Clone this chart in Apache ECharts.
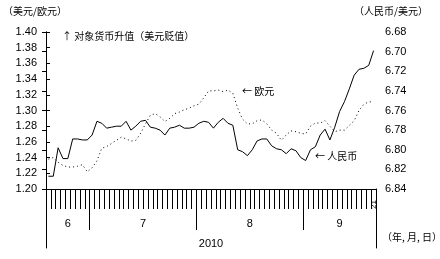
<!DOCTYPE html>
<html><head><meta charset="utf-8">
<script src="https://cdn.jsdelivr.net/npm/echarts@6/dist/echarts.min.js"></script>
<style>html,body{margin:0;padding:0;background:#fff}#c{width:440px;height:259px}</style>
</head><body><div id="c"></div>
<script>
// Trading days (month/day), 2010
const dates = [
 '6/18','6/21','6/22','6/23','6/24','6/25','6/28','6/29','6/30',
 '7/1','7/2','7/5','7/6','7/7','7/8','7/9','7/12','7/13','7/14','7/15','7/16','7/19','7/20','7/21','7/22','7/23','7/26','7/27','7/28','7/29','7/30',
 '8/2','8/3','8/4','8/5','8/6','8/9','8/10','8/11','8/12','8/13','8/16','8/17','8/18','8/19','8/20','8/23','8/24','8/25','8/26','8/27','8/30','8/31',
 '9/1','9/2','9/3','9/6','9/7','9/8','9/9','9/10','9/13','9/14','9/15','9/16','9/17','9/20','9/21'
];
// EUR: USD per EUR (left axis, dotted)
const eurValues = [
 1.238,1.240,1.234,1.230,1.228,1.228,1.229,1.231,1.222,
 1.227,1.236,1.252,1.254,1.258,1.262,1.266,1.264,1.261,1.262,1.271,1.283,1.294,1.296,1.292,1.286,1.290,1.296,1.298,1.301,1.303,1.306,
 1.308,1.316,1.325,1.325,1.326,1.324,1.326,1.322,1.303,1.289,1.283,1.283,1.287,1.288,1.283,1.275,1.271,1.262,1.269,1.274,1.273,1.271,
 1.270,1.280,1.284,1.284,1.287,1.280,1.273,1.275,1.275,1.281,1.287,1.300,1.308,1.311,1.311
];
// CNY per USD (right axis, inverted, solid)
const cnyValues = [
 6.827,6.827,6.798,6.809,6.809,6.789,6.789,6.790,6.790,
 6.785,6.771,6.773,6.778,6.777,6.776,6.776,6.771,6.780,6.776,6.771,6.770,6.777,6.778,6.780,6.785,6.778,6.777,6.775,6.778,6.778,6.777,
 6.773,6.771,6.772,6.778,6.772,6.768,6.773,6.775,6.800,6.802,6.806,6.800,6.791,6.789,6.789,6.796,6.799,6.800,6.804,6.799,6.801,6.808,
 6.811,6.800,6.797,6.785,6.779,6.790,6.777,6.761,6.751,6.738,6.724,6.718,6.717,6.714,6.699
];
const eurTicks = [1.20,1.22,1.24,1.26,1.28,1.30,1.32,1.34,1.36,1.38,1.40];
const cnyTicks = [6.68,6.70,6.72,6.74,6.76,6.78,6.80,6.82,6.84];
const yearLabel = '2010';
const texts = {
  leftUnit: '（美元/欧元）',
  rightUnit: '（人民币/美元）',
  note: '↑ 对象货币升值（美元贬值）',
  eur: '← 欧元',
  cny: '← 人民币',
  xUnit: '（年, 月, 日）'
};

const N = dates.length;
const monthOf = d => d.split('/')[0];
const dayOf = d => d.split('/')[1];
const monthStarts = [];
dates.forEach((d, i) => { if (i > 0 && monthOf(d) !== monthOf(dates[i - 1])) monthStarts.push(i); });
const bounds = [0, ...monthStarts, N];
const monthMids = [], monthNames = [];
for (let k = 0; k < bounds.length - 1; k++) {
  monthMids.push((bounds[k] + bounds[k + 1]) / 2);
  monthNames.push(monthOf(dates[bounds[k]]));
}

const NUM = 'Liberation Sans, Arial, sans-serif';
const CJK = 'Noto Sans CJK SC, sans-serif';
const black = '#000';
const tStyle = {fontSize: 10, fontWeight: 'normal', fontFamily: CJK, color: black};
const mkTitle = (text, left, top) => ({text, left, top, padding: 0, textStyle: tStyle});

const chart = echarts.init(document.getElementById('c'), null, {renderer: 'canvas'});
chart.setOption({
  animation: false,
  backgroundColor: '#fff',
  title: [
    mkTitle(texts.leftUnit, 3, 6),
    mkTitle(texts.rightUnit, 354, 6),
    mkTitle(texts.note, 62, 31),
    mkTitle(texts.eur, 242, 86),
    mkTitle(texts.cny, 315, 151),
    mkTitle(texts.xUnit, 382, 232)
  ],
  grid: [
    {left: 46, right: 64, top: 32, bottom: 70},
    {left: 46, right: 64, top: 189, bottom: 11}
  ],
  xAxis: [
    {
      type: 'category', data: dates, gridIndex: 0, position: 'bottom', boundaryGap: true,
      axisLine: {lineStyle: {color: black, width: 1}},
      axisTick: {show: true, interval: 0, length: 20, lineStyle: {color: black}},
      axisLabel: {interval: (i) => i === N - 1, formatter: (v) => dayOf(v), rotate: 90,
                  fontSize: 8, fontFamily: NUM, color: black, margin: 11},
      splitLine: {show: false}
    },
    {
      type: 'value', gridIndex: 0, position: 'bottom', min: 0, max: N,
      axisLine: {show: false},
      axisTick: {show: true, customValues: monthStarts, length: 41, lineStyle: {color: black}},
      axisLabel: {customValues: monthMids, formatter: (v) => monthNames[monthMids.indexOf(v)],
                  margin: 29, fontSize: 11, fontFamily: NUM, color: black},
      splitLine: {show: false}
    },
    {
      type: 'value', gridIndex: 0, position: 'bottom', min: 0, max: N,
      axisLine: {show: false}, axisTick: {show: false},
      axisLabel: {customValues: [N / 2], formatter: () => yearLabel, margin: 49,
                  fontSize: 11, fontFamily: NUM, color: black},
      splitLine: {show: false}
    },
    {type: 'value', gridIndex: 1, min: 0, max: 1, show: false}
  ],
  yAxis: [
    {
      type: 'value', gridIndex: 0, position: 'left',
      min: eurTicks[0], max: eurTicks[eurTicks.length - 1], interval: 0.02,
      axisLine: {show: true, lineStyle: {color: black}},
      axisTick: {show: true, inside: true, length: 4, lineStyle: {color: black}},
      axisLabel: {formatter: v => v.toFixed(2), margin: 9, fontSize: 11, fontFamily: NUM, color: black},
      splitLine: {show: false}
    },
    {
      type: 'value', gridIndex: 0, position: 'right', inverse: true,
      min: cnyTicks[0], max: cnyTicks[cnyTicks.length - 1], interval: 0.02,
      axisLine: {show: true, lineStyle: {color: black}},
      axisTick: {show: true, inside: true, length: 4, lineStyle: {color: black}},
      axisLabel: {formatter: v => v.toFixed(2), margin: 9, fontSize: 11, fontFamily: NUM, color: black},
      splitLine: {show: false}
    },
    {type: 'value', gridIndex: 1, position: 'left', min: 0, max: 1,
     axisLine: {show: true, lineStyle: {color: black}}, axisTick: {show: false},
     axisLabel: {show: false}, splitLine: {show: false}},
    {type: 'value', gridIndex: 1, position: 'right', min: 0, max: 1,
     axisLine: {show: true, lineStyle: {color: black}}, axisTick: {show: false},
     axisLabel: {show: false}, splitLine: {show: false}}
  ],
  series: [
    {name: '欧元', type: 'line', xAxisIndex: 0, yAxisIndex: 0, data: eurValues,
     symbol: 'none', lineStyle: {color: black, width: 1, type: [1, 3]}},
    {name: '人民币', type: 'line', xAxisIndex: 0, yAxisIndex: 1, data: cnyValues,
     symbol: 'none', lineStyle: {color: black, width: 1}}
  ]
});
</script></body></html>
